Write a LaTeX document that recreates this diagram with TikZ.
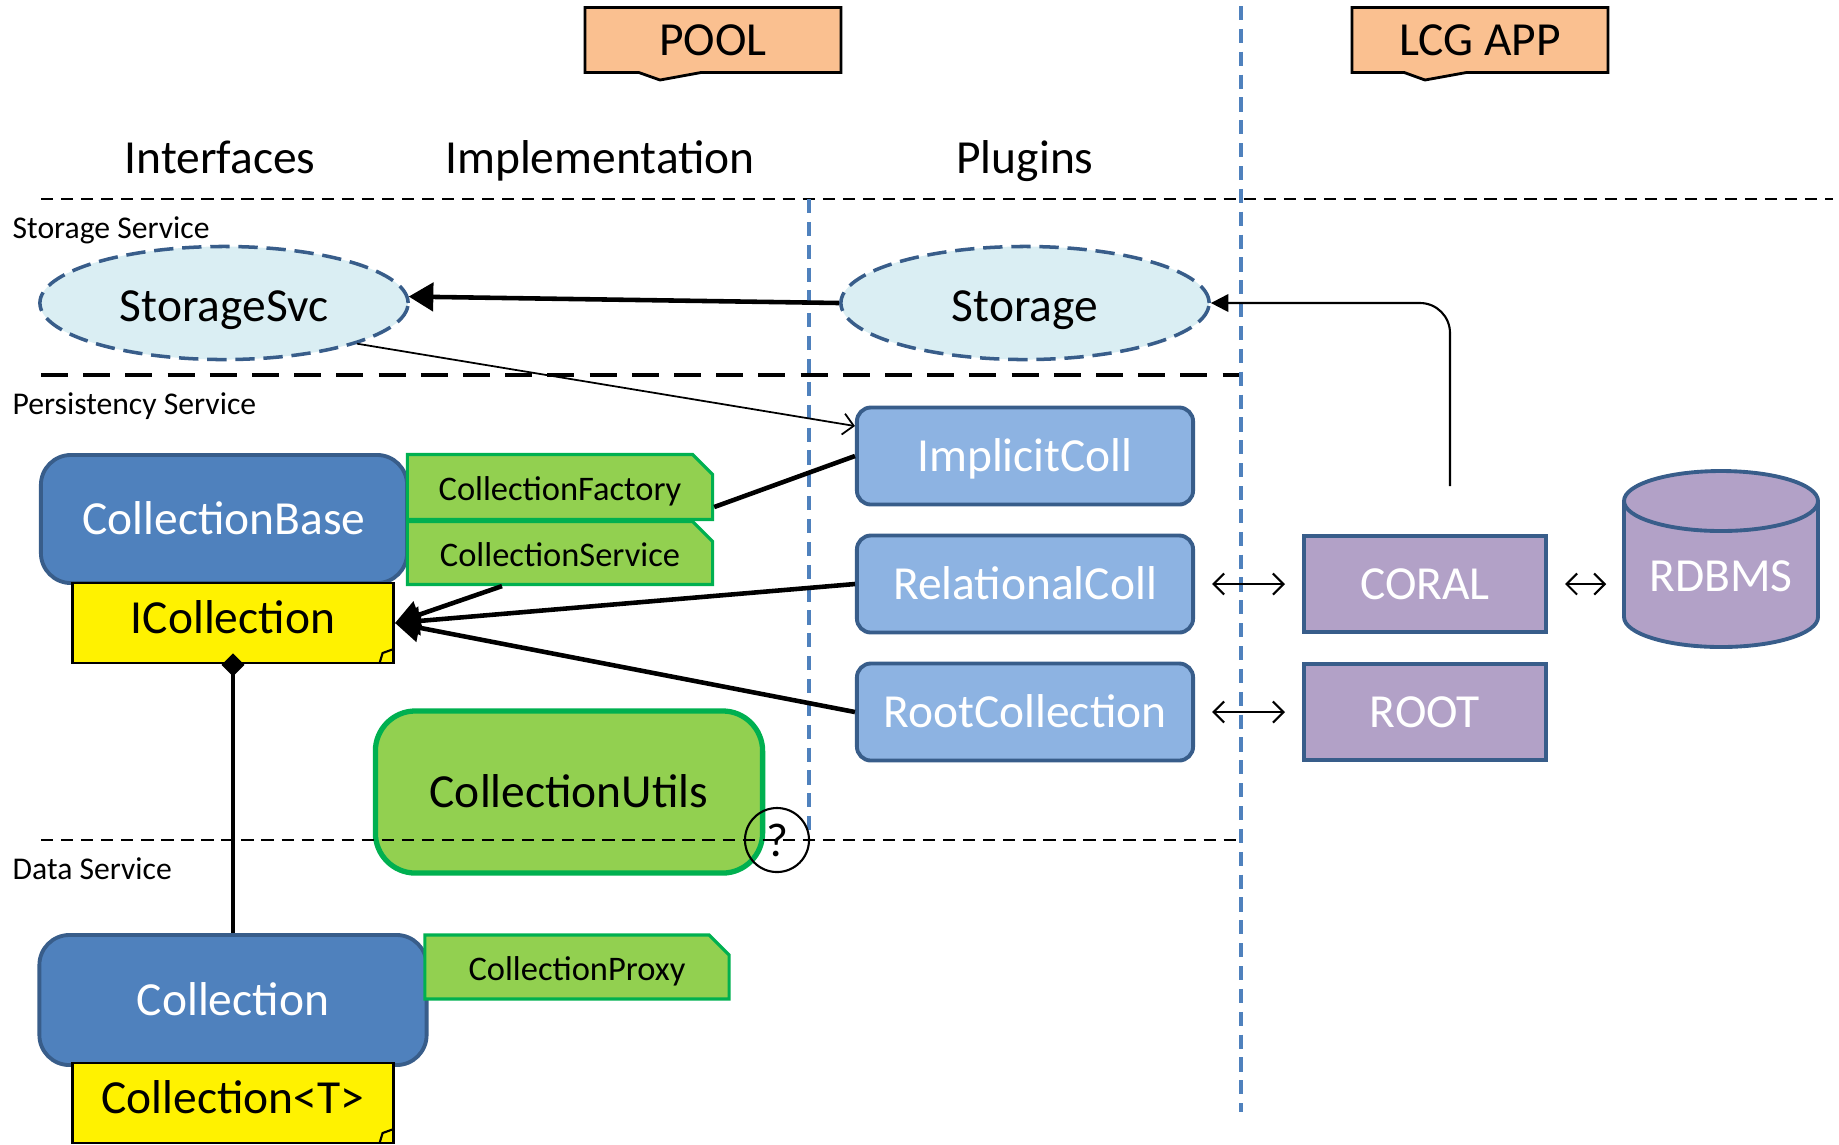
\documentclass[tikz,border=0pt]{standalone}
\usepackage{fontspec}
\setmainfont{Carlito}
\usetikzlibrary{positioning,calc,arrows.meta,shapes.geometric,shapes.misc,shapes.callouts}
\definecolor{boxblue}{HTML}{4F81BD}
\definecolor{boxline}{HTML}{385D8A}
\definecolor{plugblue}{HTML}{8DB3E2}
\definecolor{ellfill}{HTML}{DAEEF3}
\definecolor{extpurple}{HTML}{B2A1C7}
\definecolor{taggreen}{HTML}{92D050}
\definecolor{tagline}{HTML}{00B050}
\definecolor{poolorange}{HTML}{FAC090}
\definecolor{sepblue}{HTML}{4F81BD}
\newcommand{\bigfont}{\fontsize{13.5}{16}\selectfont}
\begin{document}
\begin{tikzpicture}[x=0.01cm,y=-0.01cm,
  capcenter/.style={text height=8.7pt, text depth=0pt},
  header/.style={rectangle callout, draw, line width=0.8pt, fill=poolorange, minimum width=2.56cm, minimum height=0.65cm, callout pointer width=0.62cm, capcenter, font=\bigfont},
  coltitle/.style={capcenter, font=\bigfont},
  svclabel/.style={anchor=west, inner sep=0pt, font=\fontsize{9}{11}\selectfont},
  svcell/.style={ellipse, draw=boxline, dash pattern=on 5.5pt off 2.5pt, line width=1pt, fill=ellfill, minimum width=3.68cm, minimum height=1.13cm, text height=10.4pt, text depth=0pt, font=\bigfont},
  ifbox/.style={rectangle, rounded corners=0.3cm, draw=boxline, line width=1.1pt, fill=boxblue, text=white, capcenter, font=\bigfont},
  plugbox/.style={rectangle, rounded corners=0.14cm, draw=boxline, line width=1.1pt, fill=plugblue, text=white, minimum width=3.36cm, minimum height=0.97cm, capcenter, font=\bigfont},
  extbox/.style={rectangle, draw=boxline, line width=1.1pt, fill=extpurple, text=white, minimum width=2.42cm, minimum height=0.96cm, capcenter, font=\bigfont},
  implnote/.style={chamfered rectangle, chamfered rectangle corners=north east, chamfered rectangle xsep=0.1cm, chamfered rectangle ysep=0.1cm, draw=tagline, line width=0.9pt, fill=taggreen, inner sep=0pt, text height=7.4pt, text depth=0pt, font=\fontsize{9.8}{12}\selectfont},
  yellownote/.style={rectangle, draw, line width=0.8pt, fill=yellow, minimum width=3.21cm, minimum height=0.8cm, text height=8.7pt, text depth=3pt, font=\bigfont,
    path picture={\draw[line width=0.6pt] ($(path picture bounding box.south east)+(-14,0)$) -- ++(3,-10) -- ++(11,-4);}},
  utilbox/.style={rectangle, rounded corners=0.4cm, draw=tagline, line width=1.5pt, fill=taggreen, minimum width=3.87cm, minimum height=1.62cm, capcenter, font=\bigfont},
  dbshape/.style={draw=boxline, line width=1.1pt, fill=extpurple},
  dbtext/.style={minimum width=1.94cm, minimum height=1.76cm, text=white, text height=18.3pt, text depth=0pt, font=\bigfont},
  sepline/.style={line width=0.6pt, dash pattern=on 3.5pt off 2.2pt},
  layerline/.style={line width=1.4pt, dash pattern=on 7.7pt off 4.3pt},
  plugline/.style={sepblue, line width=1.1pt, dash pattern=on 4pt off 2.5pt},
  bigarrow/.style={line width=1.3pt, -{Triangle[length=7pt,width=8pt]}},
  thinarrow/.style={line width=0.5pt, -{Straight Barb[length=3pt,width=6pt]}},
  plainline/.style={line width=1.3pt},
  diamline/.style={line width=1.3pt, {Diamond[length=6.5pt,width=6.5pt]}-},
  feedarrow/.style={line width=0.6pt, -{Triangle[length=5pt,width=5pt]}},
  linkarrow/.style={line width=0.6pt, {Straight Barb[length=3pt,width=6pt]}-{Straight Barb[length=3pt,width=6pt]}, shorten <=0.17cm, shorten >=0.17cm}]
\useasboundingbox (0,0) rectangle (1839,1144);
\node[header, callout absolute pointer={(660,80)}] (pool) at (713,40) {POOL};
\node[header, callout absolute pointer={(1425,80)}] (lcgapp) at (1480,40) {LCG APP};
\node[coltitle] (hif) at (220,158) {Interfaces};
\node[coltitle] (himpl) at (600,158) {Implementation};
\node[coltitle] (hplug) at (1025,158) {Plugins};
\node[svclabel] (lstorage) at (12,230) {Storage Service};
\node[svclabel] (lpersist) at (12,406) {Persistency Service};
\node[svclabel] (ldata) at (12,869) {Data Service};
\node[svcell] (storsvc) at (224,303) {StorageSvc};
\node[svcell] (storage) at (1025,303) {Storage};
\node[plugbox] (implicit) at (1025,456) {ImplicitColl};
\node[plugbox] (relational) at (1025,584) {RelationalColl};
\node[plugbox] (rootcoll) at (1025,712) {RootCollection};
\node[ifbox, minimum width=3.66cm, minimum height=1.28cm] (collbase) at (224,519) {CollectionBase};
\node[implnote, minimum width=3.05cm, minimum height=0.65cm] (factory) at (560,487) {CollectionFactory};
\node[implnote, minimum width=3.05cm, minimum height=0.63cm] (service) at (560,553) {CollectionService};
\node[yellownote] (icoll) at (233,623) {ICollection};
\node[utilbox] (utils) at (569,792) {CollectionUtils};
\node[ifbox, minimum width=3.87cm, minimum height=1.3cm] (collection) at (233,1000) {Collection};
\node[implnote, minimum width=3.04cm, minimum height=0.64cm] (proxy) at (577,967) {CollectionProxy};
\node[yellownote] (collt) at (233,1103) {Collection<T>};
\node[extbox] (coral) at (1425,584) {CORAL};
\node[extbox] (root) at (1425,712) {ROOT};
% database drum
\coordinate (dbc) at (1721,559);
\draw[dbshape] ($(dbc)+(-97,-58)$) -- ($(dbc)+(-97,58)$) arc[start angle=180, end angle=0, x radius=97, y radius=30]
  -- ($(dbc)+(97,-58)$) arc[start angle=0, end angle=-180, x radius=97, y radius=30] -- cycle;
\draw[dbshape, fill=none] ($(dbc)+(-97,-58)$) arc[start angle=180, end angle=0, x radius=97, y radius=30];
\node[dbtext] (rdbms) at (dbc) {RDBMS};
\draw[sepline] (41,199) -- (1833,199);
\draw[layerline] (41,375) -- (1241,375);
\draw[sepline] (41,840) -- (1241,840);
\draw[plugline] (809,199) -- (809,838);
\draw[plugline] (1241,6) -- (1241,1112);
\node[circle, draw, line width=0.6pt, minimum size=0.64cm, inner sep=0pt, font=\bigfont] (qmark) at (777,840) {?};
\draw[bigarrow] (storage.west) -- (storsvc.2);
\draw[thinarrow] (storsvc.-17) -- (implicit.170);
\draw[plainline] ($(factory.east)+(0,20)$) -- (implicit.west);
\draw[bigarrow] (relational.west) -- (icoll.east);
\draw[bigarrow] (rootcoll.west) -- (icoll.east);
\draw[bigarrow] ($(service.south)+(-58,0)$) -- (icoll.east);
\draw[diamline] ($(icoll.south)+(0,-11)$) -- (collection.north);
\coordinate (coralup) at ($(coral.north)+(25,-48)$);
\draw[feedarrow, rounded corners=0.3cm] (coralup) |- (storage.east);
\draw[linkarrow] (relational.east) -- (coral.west);
\draw[linkarrow] (rootcoll.east) -- (root.west);
\draw[linkarrow] (coral.east) -- (coral.east -| rdbms.west);
\end{tikzpicture}
\end{document}
